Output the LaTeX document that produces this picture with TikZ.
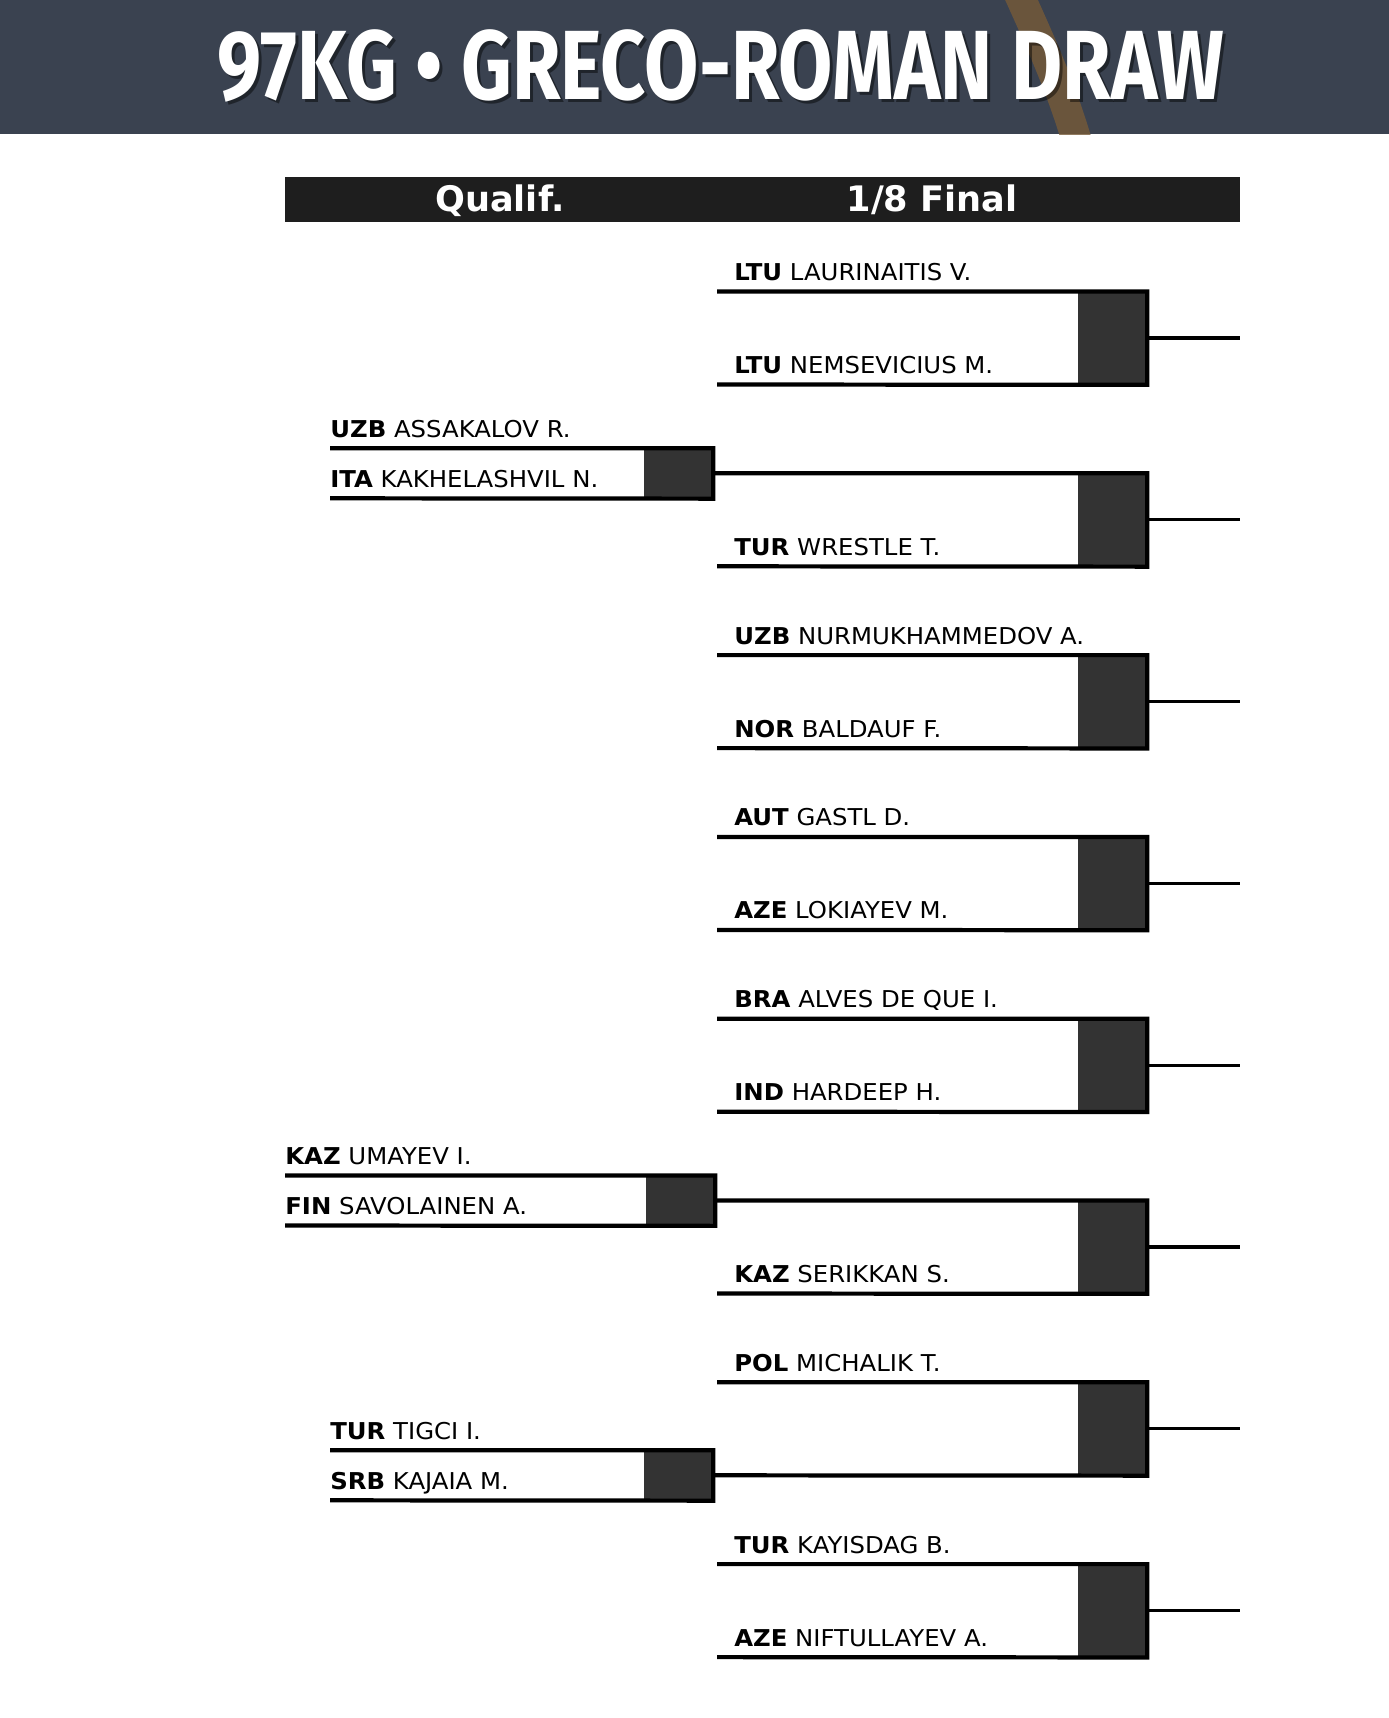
\documentclass[tikz,border=0pt]{standalone}
\usepackage{fontspec}
\setmainfont{DejaVu Sans}[FakeStretch=1.05]
\newfontfamily\headfont{DejaVu Sans}
\newfontfamily\titlefont{Fira Sans}[FakeStretch=0.8]
\usetikzlibrary{positioning}
\definecolor{bandgray}{HTML}{3A4250}
\definecolor{bargray}{HTML}{1E1E1E}
\definecolor{boxgray}{HTML}{333333}
\definecolor{ringbrown}{HTML}{765A38}

\begin{document}
\begin{tikzpicture}[x=0.02cm, y=-0.02cm,
  nm/.style={anchor=base west, inner sep=0pt, font=\fontsize{13.2}{15}\selectfont},
  hd/.style={anchor=base, inner sep=0pt, text=white, font=\headfont\fontsize{20}{24}\selectfont\bfseries},
  win/.style={fill=boxgray, inner sep=0pt, minimum width=1.38cm, minimum height=#1},
  win/.default=1.86cm,
  bline/.style={line width=2.4pt},
  stub/.style={line width=1.8pt}]
\useasboundingbox (0,0) rectangle (1389,1718);
% header band
\fill[bandgray] (0,0) rectangle (1389,134);
\begin{scope}
\clip (0,0) rectangle (1389,134);
\draw[ringbrown, opacity=0.8, line width=17pt] (1017,-10) .. controls (1042,45) and (1062,90) .. (1078,145);
\end{scope}
\node[anchor=base, inner sep=0pt, text=black, opacity=0.45, font=\titlefont\fontsize{56}{60}\selectfont\bfseries] (titleshadow) at (724,102) {97KG • GRECO-ROMAN DRAW};
\node[anchor=base, inner sep=0pt, text=white, font=\titlefont\fontsize{56}{60}\selectfont\bfseries] (title) at (721,99) {97KG • GRECO-ROMAN DRAW};
% round headings
\fill[bargray] (285,177) rectangle (1240,222);
\node[hd] (hq) at (500,211) {Qualif.};
\node[hd] (hf) at (932,211) {1/8 Final};

% 1/8 final
\coordinate (s1a) at (717,291.5); \coordinate (s1b) at (717,384.5);
\coordinate (s2a) at (717,473.3); \coordinate (s2b) at (717,566.3);
\coordinate (s3a) at (717,655.1); \coordinate (s3b) at (717,748.1);
\coordinate (s4a) at (717,836.9); \coordinate (s4b) at (717,929.9);
\coordinate (s5a) at (717,1018.7); \coordinate (s5b) at (717,1111.7);
\coordinate (s6a) at (717,1200.5); \coordinate (s6b) at (717,1293.5);
\coordinate (s7a) at (717,1382.3); \coordinate (s7b) at (717,1475.3);
\coordinate (s8a) at (717,1564.1); \coordinate (s8b) at (717,1657.1);
\node[win] (b1) at (1112.5,338) {};
\node[win] (b2) at (1112.5,519.8) {};
\node[win] (b3) at (1112.5,701.6) {};
\node[win] (b4) at (1112.5,883.4) {};
\node[win] (b5) at (1112.5,1065.2) {};
\node[win] (b6) at (1112.5,1247) {};
\node[win] (b7) at (1112.5,1428.8) {};
\node[win] (b8) at (1112.5,1610.6) {};
\coordinate (w1) at (1240,338);
\coordinate (w2) at (1240,519.8);
\coordinate (w3) at (1240,701.6);
\coordinate (w4) at (1240,883.4);
\coordinate (w5) at (1240,1065.2);
\coordinate (w6) at (1240,1247);
\coordinate (w7) at (1240,1428.8);
\coordinate (w8) at (1240,1610.6);

\node[nm] (n1a) at (734,280.5) {\textbf{LTU} LAURINAITIS V.};
\node[nm] (n1b) at (734,373.5) {\textbf{LTU} NEMSEVICIUS M.};
\node[nm] (n2b) at (734,555.3) {\textbf{TUR} WRESTLE T.};
\node[nm] (n3a) at (734,644.1) {\textbf{UZB} NURMUKHAMMEDOV A.};
\node[nm] (n3b) at (734,737.1) {\textbf{NOR} BALDAUF F.};
\node[nm] (n4a) at (734,825.9) {\textbf{AUT} GASTL D.};
\node[nm] (n4b) at (734,918.9) {\textbf{AZE} LOKIAYEV M.};
\node[nm] (n5a) at (734,1007.7) {\textbf{BRA} ALVES DE QUE I.};
\node[nm] (n5b) at (734,1100.7) {\textbf{IND} HARDEEP H.};
\node[nm] (n6b) at (734,1282.5) {\textbf{KAZ} SERIKKAN S.};
\node[nm] (n7a) at (734,1371.3) {\textbf{POL} MICHALIK T.};
\node[nm] (n8a) at (734,1553.1) {\textbf{TUR} KAYISDAG B.};
\node[nm] (n8b) at (734,1646.1) {\textbf{AZE} NIFTULLAYEV A.};

% qualification
\coordinate (q1a) at (330,448.3); \coordinate (q1b) at (330,498.3);
\coordinate (q2a) at (285,1175.5); \coordinate (q2b) at (285,1225.5);
\coordinate (q3a) at (330,1450.3); \coordinate (q3b) at (330,1500.3);
\node[win=1cm] (q1) at (678.5,473.3) {};
\node[win=1cm] (q2) at (680.5,1200.5) {};
\node[win=1cm] (q3) at (678.5,1475.3) {};
\node[nm] (m1a) at (330,437.3) {\textbf{UZB} ASSAKALOV R.};
\node[nm] (m1b) at (330,487.3) {\textbf{ITA} KAKHELASHVIL N.};
\node[nm] (m2a) at (285,1164.5) {\textbf{KAZ} UMAYEV I.};
\node[nm] (m2b) at (285,1214.5) {\textbf{FIN} SAVOLAINEN A.};
\node[nm] (m3a) at (330,1439.3) {\textbf{TUR} TIGCI I.};
\node[nm] (m3b) at (330,1489.3) {\textbf{SRB} KAJAIA M.};

\draw[bline] (q1a) -| (q1.south east) -- (q1b);
\draw[bline] (q2a) -| (q2.south east) -- (q2b);
\draw[bline] (q3a) -| (q3.south east) -- (q3b);

\draw[bline] (s1a) -| (b1.south east) -- (s1b);
\draw[bline] (q1.east) -- (s2a) -| (b2.south east) -- (s2b);
\draw[bline] (s3a) -| (b3.south east) -- (s3b);
\draw[bline] (s4a) -| (b4.south east) -- (s4b);
\draw[bline] (s5a) -| (b5.south east) -- (s5b);
\draw[bline] (q2.east) -- (s6a) -| (b6.south east) -- (s6b);
\draw[bline] (s7a) -| (b7.south east) -- (s7b) -- (q3.east);
\draw[bline] (s8a) -| (b8.south east) -- (s8b);

\draw[stub] (b1.east) -- (w1);
\draw[stub] (b2.east) -- (w2);
\draw[stub] (b3.east) -- (w3);
\draw[stub] (b4.east) -- (w4);
\draw[stub] (b5.east) -- (w5);
\draw[stub] (b6.east) -- (w6);
\draw[stub] (b7.east) -- (w7);
\draw[stub] (b8.east) -- (w8);
\end{tikzpicture}
\end{document}
